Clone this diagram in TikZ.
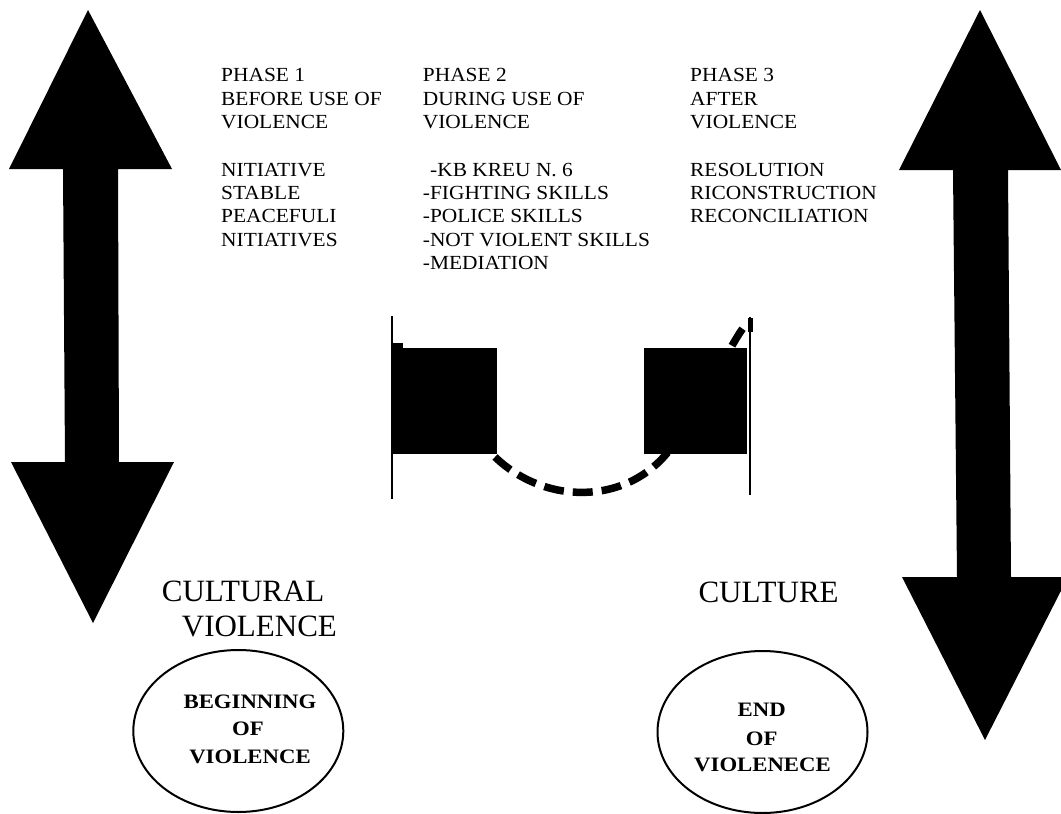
\documentclass[tikz,border=0pt]{standalone}
\usepackage{fontspec}
\setmainfont{Liberation Serif}
\usetikzlibrary{shapes.geometric}
\tikzset{
  phase/.style={font=\fontsize{20}{24}\selectfont, anchor=base west, inner sep=0pt, xscale=1.07, transform shape},
  big/.style={font=\fontsize{31}{36}\selectfont, anchor=base west, inner sep=0pt},
  oval/.style={draw, ellipse, line width=2pt, minimum width=210pt, minimum height=162pt, inner sep=0pt},
  ovaltxt/.style={font=\bfseries\fontsize{20.5}{24}\selectfont, anchor=base, inner sep=0pt, xscale=1.11, transform shape},
  bigarrow/.style={fill=black, draw=none},
  post/.style={line width=2pt},
  curve/.style={line width=7.5pt, dash pattern=on 20pt off 9pt}
}
\begin{document}
\begin{tikzpicture}[x=1pt,y=1pt]
\useasboundingbox (0,0) rectangle (1061,-814);
\fill[white] (0,0) rectangle (1061,-814);

% big double arrows
\fill[bigarrow] (88,-10) -- (172,-169) -- (118,-169) -- (119,-462) -- (174,-462) -- (93,-623) -- (11,-462) -- (65,-462) -- (63,-169) -- (9,-169) -- cycle;
\fill[bigarrow] (980,-10) -- (1061,-170) -- (1008,-170) -- (1011,-577) -- (1068,-577) -- (985,-740) -- (902,-577) -- (957,-577) -- (953,-170) -- (899,-170) -- cycle;

% phase 1
\node[phase] (p1a) at (221,-81.7) {PHASE 1};
\node[phase] (p1b) at (221,-105.1) {BEFORE USE OF};
\node[phase] (p1c) at (221,-128.5) {VIOLENCE};
\node[phase] (p1d) at (221,-176.7) {NITIATIVE};
\node[phase] (p1e) at (221,-199.7) {STABLE};
\node[phase] (p1f) at (221,-222.9) {PEACEFULI};
\node[phase] (p1g) at (221,-246.3) {NITIATIVES};

% phase 2
\node[phase] (p2a) at (422.7,-81.7) {PHASE 2};
\node[phase] (p2b) at (422.7,-105.1) {DURING USE OF};
\node[phase] (p2c) at (422.7,-128.5) {VIOLENCE};
\node[phase] (p2d) at (430,-176.7) {-KB KREU N. 6};
\node[phase] (p2e) at (422.7,-199.7) {-FIGHTING SKILLS};
\node[phase] (p2f) at (422.7,-222.9) {-POLICE SKILLS};
\node[phase] (p2g) at (422.7,-246.3) {-NOT VIOLENT SKILLS};
\node[phase] (p2h) at (422.7,-269.7) {-MEDIATION};

% phase 3
\node[phase] (p3a) at (690,-81.7) {PHASE 3};
\node[phase] (p3b) at (690,-105.1) {AFTER};
\node[phase] (p3c) at (690,-128.5) {VIOLENCE};
\node[phase] (p3d) at (690,-176.7) {RESOLUTION};
\node[phase] (p3e) at (690,-199.7) {RICONSTRUCTION};
\node[phase] (p3f) at (690,-222.9) {RECONCILIATION};

% middle figure
\coordinate (lt) at (392,-316);
\coordinate (lb) at (392,-499);
\coordinate (rt) at (750,-317);
\coordinate (rb) at (750,-495);
\draw[post] (lt) -- (lb);
\draw[post] (rt) -- (rb);
\draw[line width=5pt] (750,-318) -- (750,-332);
\fill (393,-343) rectangle (403,-349);
\coordinate (cs) at (495,-457);
\coordinate (cm) at (668,-452);
\coordinate (ce) at (746,-324);
\draw[curve] (cs) .. controls (545,-505) and (625,-505) .. (cm) .. controls (700,-420) and (722,-355) .. (ce);
\fill (392,-348) rectangle (497,-454);
\fill (644,-348) rectangle (747,-454);

% bottom labels
\node[big] (cv1) at (161.7,-601.7) {CULTURAL};
\node[big] (cv2) at (181.7,-636.7) {VIOLENCE};
\node[big] (cu) at (698.3,-602.7) {CULTURE};

% ellipses
\node[oval] (begin) at (238.3,-731) {};
\node[ovaltxt] (b1) at (250,-708.3) {BEGINNING};
\node[ovaltxt] (b2) at (248,-735.5) {OF};
\node[ovaltxt] (b3) at (250,-763.3) {VIOLENCE};

\node[oval] (end) at (762.5,-732) {};
\node[ovaltxt] (e1) at (761.7,-716.7) {END};
\node[ovaltxt] (e2) at (761.7,-745) {OF};
\node[ovaltxt] (e3) at (762.5,-771.7) {VIOLENECE};
\end{tikzpicture}
\end{document}
